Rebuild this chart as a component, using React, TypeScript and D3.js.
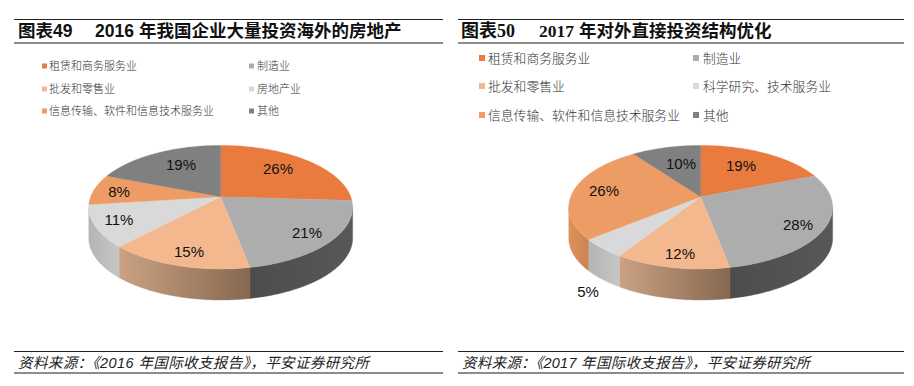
import React from "react";
import * as d3 from "d3";

const values49 = [26, 21, 15, 11, 8, 19];
const values50 = [19, 28, 12, 5, 26, 10];
const labels49 = ["26%", "21%", "15%", "11%", "8%", "19%"];
const labels50 = ["19%", "28%", "12%", "5%", "26%", "10%"];
const legend49 = ["租赁和商务服务业", "制造业", "批发和零售业", "房地产业", "信息传输、软件和信息技术服务业", "其他"];
const legend50 = ["租赁和商务服务业", "制造业", "批发和零售业", "科学研究、技术服务业", "信息传输、软件和信息技术服务业", "其他"];
const topColors = ["#E97B3E", "#ADADAD", "#F4B88F", "#D9D9D9", "#EE9C66", "#808080"];
const sideStart = ["#C96F3A", "#4C4C4C", "#CBA283", "#B4B4B4", "#E0915C", "#707070"];
const sideEnd = ["#C96F3A", "#585858", "#866850", "#C6C6C6", "#C98352", "#707070"];

// layout only
const labelPos49: [number, number][] = [[278, 170], [307, 234], [189, 253], [119, 221], [119, 193], [181, 166]];
const labelPos50: [number, number][] = [[741, 167], [798, 226], [680, 255], [588, 293], [604, 192], [681, 165]];
const SX = 130, SY = 60, K = 0.17, DEPTH = 31;
const VIS0 = Math.PI / 2 + Math.asin(K);
const VIS1 = (3 * Math.PI) / 2 - Math.asin(K);
const SANS = "'Liberation Sans','Noto Sans CJK SC',sans-serif";
const SERIF = "'Liberation Serif','Noto Sans CJK SC',serif";

const pieGen = d3.pie<number>().sort(null).startAngle(0).endAngle(2 * Math.PI);
const lineGen = d3.line<[number, number]>();

function project(t: number, cx: number, cy: number): [number, number] {
  const u = Math.sin(t), v = -Math.cos(t), w = 1 - K * v;
  return [cx + (SX * u) / w, cy + (SY * v) / w];
}
function arcPts(a: number, b: number, cx: number, cy: number) {
  const n = Math.max(2, Math.ceil((b - a) / 0.02));
  return d3.range(n + 1).map((i) => project(a + ((b - a) * i) / n, cx, cy));
}

function Pie({ id, values, labels, pos, cx, cy }: { id: string; values: number[]; labels: string[]; pos: [number, number][]; cx: number; cy: number }) {
  const arcs = pieGen(values);
  return (
    <g>
      <defs>
        {arcs.map((d, i) => {
          const a = Math.max(d.startAngle, VIS0), b = Math.min(d.endAngle, VIS1);
          if (b <= a) return null;
          const x0 = project(b, cx, cy)[0], x1 = project(a, cx, cy)[0];
          return (
            <linearGradient key={i} id={`${id}-g${i}`} gradientUnits="userSpaceOnUse" x1={x0} x2={x1} y1={0} y2={0}>
              <stop offset="0" stopColor={sideStart[i]} />
              <stop offset="1" stopColor={sideEnd[i]} />
            </linearGradient>
          );
        })}
      </defs>
      {arcs.map((d, i) => {
        const a = Math.max(d.startAngle, VIS0), b = Math.min(d.endAngle, VIS1);
        if (b <= a) return null;
        const top = arcPts(a, b, cx, cy);
        const bottom = top.map(([x, y]) => [x, y + DEPTH] as [number, number]).reverse();
        return <path key={i} d={lineGen([...top, ...bottom]) + "Z"} fill={`url(#${id}-g${i})`} stroke={`url(#${id}-g${i})`} strokeWidth={0.4} />;
      })}
      {arcs.map((d, i) => (
        <path key={i} d={lineGen([[cx, cy], ...arcPts(d.startAngle, d.endAngle, cx, cy)]) + "Z"} fill={topColors[i]} stroke={topColors[i]} strokeWidth={0.4} />
      ))}
      {labels.map((t, i) => (
        <text key={i} x={pos[i][0]} y={pos[i][1]} textAnchor="middle" dominantBaseline="middle" fontFamily={SANS} fontSize={15} fill="#111">{t}</text>
      ))}
    </g>
  );
}

function Legend({ items, xs, textXs, ys, size, swatch }: { items: string[]; xs: number[]; textXs: number[]; ys: number[]; size: number; swatch: number }) {
  return (
    <g>
      {items.map((t, i) => {
        const c = i % 2, r = Math.floor(i / 2);
        return (
          <g key={i}>
            <rect x={xs[c]} y={ys[r] - swatch / 2} width={swatch} height={swatch} fill={topColors[i]} />
            <text x={textXs[c]} y={ys[r] - 1} dominantBaseline="central" fontFamily="'Noto Sans CJK SC',sans-serif" fontWeight={300} fontSize={size} fill="#333">{t}</text>
          </g>
        );
      })}
    </g>
  );
}

function Frame({ x0, x1 }: { x0: number; x1: number }) {
  return (
    <g>
      <line x1={x0} x2={x1} y1={19.5} y2={19.5} stroke="#222" strokeWidth={1} />
      <line x1={x0} x2={x1} y1={43} y2={43} stroke="#666" strokeWidth={1.4} />
      <line x1={x0} x2={x1} y1={351.5} y2={351.5} stroke="#222" strokeWidth={1} />
      <line x1={x0} x2={x1} y1={373} y2={373} stroke="#666" strokeWidth={1.4} />
    </g>
  );
}

export default function App() {
  const titleStyle = { fontWeight: 700, fontSize: 17.5, fill: "#111" } as const;
  const noteStyle = { fontStyle: "italic", fontSize: 14.5, fill: "#222", fontFamily: SANS } as const;
  return (
    <svg width={914} height={386} style={{ position: "absolute", left: 0, top: 0, background: "#fff" }}>
      <Frame x0={14} x1={443} />
      <Frame x0={458} x1={904} />

      <text x={18} y={37} fontFamily={SANS} style={titleStyle}>图表49</text>
      <text x={95} y={37} fontFamily={SANS} style={titleStyle}>2016</text>
      <text x={139} y={37} fontFamily={SANS} style={titleStyle}>年我国企业大量投资海外的房地产</text>

      <text x={461} y={37} fontFamily={SERIF} style={{ ...titleStyle, fontSize: 18 }}>图表50</text>
      <text x={539} y={37} fontFamily={SERIF} style={titleStyle}>2017</text>
      <text x={579} y={37} fontFamily={SERIF} style={titleStyle}>年对外直接投资结构优化</text>

      <Legend items={legend49} xs={[42, 249]} textXs={[49, 257]} ys={[66, 89, 111]} size={11} swatch={5} />
      <Legend items={legend50} xs={[479, 693]} textXs={[488, 703]} ys={[58, 86, 115]} size={12.8} swatch={6} />

      <Pie id="p49" values={values49} labels={labels49} pos={labelPos49} cx={220.7} cy={196.7} />
      <Pie id="p50" values={values50} labels={labels50} pos={labelPos50} cx={700.7} cy={196.7} />

      <text x={18} y={368} style={noteStyle} textLength={351} lengthAdjust="spacing">资料来源：《2016 年国际收支报告》，平安证券研究所</text>
      <text x={462} y={368} style={noteStyle} textLength={348} lengthAdjust="spacing">资料来源：《2017 年国际收支报告》，平安证券研究所</text>
    </svg>
  );
}
